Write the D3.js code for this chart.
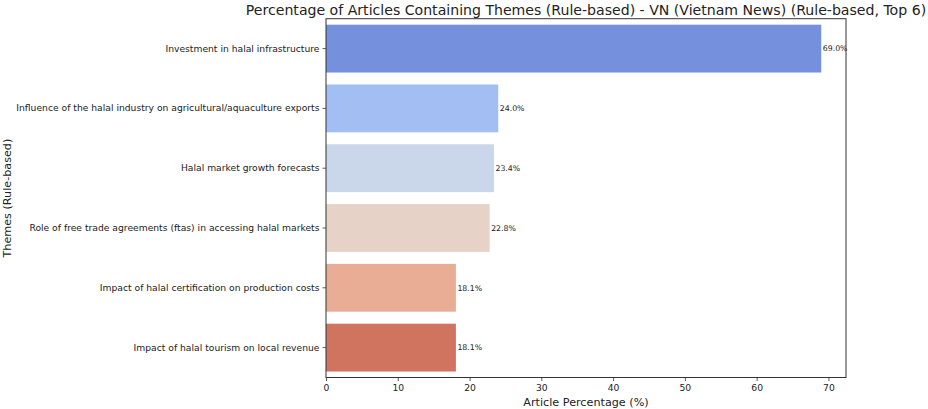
<!DOCTYPE html>
<html>
<head>
<meta charset="utf-8">
<script src="https://cdn.jsdelivr.net/npm/d3@7"></script>
<style>
    body { margin: 0; background: #fff; }
    text { font-family: "DejaVu Sans", sans-serif; fill: #222; }
</style>
</head>
<body>
<svg id="drawing_region"></svg>
<script>
const themes = [
    "Investment in halal infrastructure",
    "Influence of the halal industry on agricultural/aquaculture exports",
    "Halal market growth forecasts",
    "Role of free trade agreements (ftas) in accessing halal markets",
    "Impact of halal certification on production costs",
    "Impact of halal tourism on local revenue"
];
const percentages = [69.0, 24.0, 23.4, 22.8, 18.1, 18.1];
const bar_colors = ["#7591de", "#a3bef3", "#cad7eb", "#e7d2c8", "#e9ad95", "#d07460"];
const x_ticks = [0, 10, 20, 30, 40, 50, 60, 70];

const config = {
    width: 928,
    height: 409,
    margin: {top: 18.7, right: 82, bottom: 31.5, left: 326}
};

const svg = d3.select('#drawing_region')
    .attr('width', config.width)
    .attr('height', config.height);

const inner_width = config.width - config.margin.left - config.margin.right;
const inner_height = config.height - config.margin.top - config.margin.bottom;

const chart = svg.append('g')
    .attr('transform', `translate(${config.margin.left}, ${config.margin.top})`);

// matplotlib style: 5% margin past the longest bar
const xscale = d3.scaleLinear()
    .domain([0, d3.max(percentages) * 1.05])
    .range([0, inner_width]);

const yscale = d3.scaleBand()
    .domain(themes)
    .range([0, inner_height])
    .paddingInner(0.2)
    .paddingOuter(0.1);

chart.selectAll('rect.bar')
    .data(themes)
    .enter()
    .append('rect')
    .attr('class', 'bar')
    .attr('x', 0)
    .attr('y', d => yscale(d))
    .attr('width', (d, i) => xscale(percentages[i]))
    .attr('height', yscale.bandwidth())
    .attr('fill', (d, i) => bar_colors[i]);

chart.selectAll('text.value')
    .data(themes)
    .enter()
    .append('text')
    .attr('class', 'value')
    .attr('x', (d, i) => xscale(percentages[i]) + 1.5)
    .attr('y', d => yscale(d) + yscale.bandwidth() / 2)
    .attr('dy', '0.35em')
    .style('font-size', '7.8px')
    .text((d, i) => percentages[i].toFixed(1) + '%');

const xaxis = d3.axisBottom(xscale)
    .tickValues(x_ticks)
    .tickSize(3.5)
    .tickPadding(3)
    .tickSizeOuter(0);

const xaxis_group = chart.append('g')
    .attr('transform', `translate(0, ${inner_height})`)
    .call(xaxis);

const yaxis = d3.axisLeft(yscale)
    .tickSize(3.5)
    .tickPadding(3)
    .tickSizeOuter(0);

const yaxis_group = chart.append('g')
    .call(yaxis);

[xaxis_group, yaxis_group].forEach(g => {
    g.select('.domain').remove();
    g.selectAll('.tick line').attr('stroke', '#333').attr('stroke-width', 0.8);
    g.selectAll('.tick text').style('font-size', '9.2px').attr('fill', '#222');
});

// frame
chart.append('rect')
    .attr('x', 0)
    .attr('y', 0)
    .attr('width', inner_width)
    .attr('height', inner_height)
    .attr('fill', 'none')
    .attr('stroke', '#333')
    .attr('stroke-width', 1);

svg.append('text')
    .attr('x', config.margin.left + inner_width / 2)
    .attr('y', 14.5)
    .attr('text-anchor', 'middle')
    .style('font-size', '14.1px')
    .text('Percentage of Articles Containing Themes (Rule-based) - VN (Vietnam News) (Rule-based, Top 6)');

svg.append('text')
    .attr('x', config.margin.left + inner_width / 2)
    .attr('y', 406)
    .attr('text-anchor', 'middle')
    .style('font-size', '11.2px')
    .text('Article Percentage (%)');

svg.append('text')
    .attr('transform', `translate(11, ${config.margin.top + inner_height / 2}) rotate(-90)`)
    .attr('text-anchor', 'middle')
    .style('font-size', '11.2px')
    .text('Themes (Rule-based)');
</script>
</body>
</html>
